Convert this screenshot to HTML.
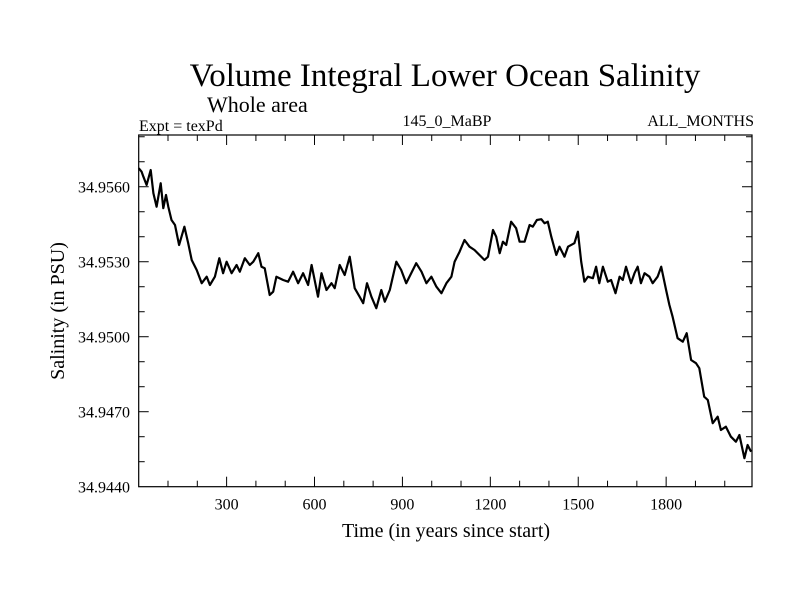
<!DOCTYPE html>
<html><head><meta charset="utf-8"><style>
html,body{margin:0;padding:0;background:#fff;}
svg{display:block;font-family:"Liberation Serif",serif;}
</style></head><body>
<svg id="chart" width="800" height="600" viewBox="0 0 800 600">
<text x="445" y="86" font-size="33" text-anchor="middle">Volume Integral Lower Ocean Salinity</text>
<text x="207" y="112" font-size="22">Whole area</text>
<text x="139" y="131" font-size="16">Expt = texPd</text>
<text x="447" y="126" font-size="16" text-anchor="middle">145_0_MaBP</text>
<text x="754" y="126" font-size="16" text-anchor="end">ALL_MONTHS</text>
<text x="446" y="537" font-size="20" text-anchor="middle">Time (in years since start)</text>
<text transform="translate(64,311) rotate(-90)" font-size="20" text-anchor="middle">Salinity (in PSU)</text>
<g id="axes"></g>
<g id="series"></g>
</svg>
<script>
const years = [0,10,16,27,41,50,61,75,84,93,101,112,124,138,156,169,181,198,215,232,243,260,275,288,300,317,334,345,362,379,391,408,419,430,447,459,470,493,510,527,544,561,578,590,612,624,641,658,669,686,703,720,737,754,766,779,794,811,828,840,857,879,896,913,930,947,965,982,999,1016,1033,1050,1067,1078,1095,1112,1129,1146,1163,1180,1192,1209,1220,1232,1243,1254,1271,1288,1300,1317,1334,1345,1359,1374,1385,1396,1408,1425,1436,1453,1465,1487,1499,1510,1521,1533,1550,1561,1572,1584,1601,1612,1627,1641,1652,1663,1680,1692,1703,1714,1726,1743,1754,1771,1783,1800,1811,1822,1839,1857,1870,1885,1902,1913,1930,1942,1959,1976,1987,2004,2021,2038,2050,2067,2078,2090];
const salinity = [34.95674,34.95660,34.95640,34.95607,34.95667,34.95574,34.95520,34.95614,34.95514,34.95567,34.95520,34.95467,34.95447,34.95367,34.95440,34.95374,34.95307,34.95267,34.95214,34.95240,34.95207,34.95240,34.95314,34.95254,34.95300,34.95254,34.95287,34.95260,34.95314,34.95287,34.95300,34.95334,34.95280,34.95274,34.95167,34.95180,34.95240,34.95227,34.95220,34.95260,34.95214,34.95254,34.95207,34.95287,34.95160,34.95254,34.95187,34.95214,34.95194,34.95287,34.95247,34.95320,34.95194,34.95160,34.95134,34.95214,34.95160,34.95114,34.95187,34.95140,34.95187,34.95300,34.95267,34.95214,34.95254,34.95294,34.95260,34.95214,34.95240,34.95200,34.95174,34.95214,34.95240,34.95300,34.95340,34.95387,34.95360,34.95347,34.95327,34.95307,34.95320,34.95427,34.95400,34.95334,34.95380,34.95367,34.95460,34.95434,34.95380,34.95380,34.95447,34.95440,34.95467,34.95470,34.95454,34.95460,34.95400,34.95327,34.95360,34.95320,34.95360,34.95374,34.95420,34.95300,34.95220,34.95240,34.95234,34.95280,34.95214,34.95280,34.95220,34.95227,34.95174,34.95240,34.95227,34.95280,34.95214,34.95254,34.95280,34.95214,34.95254,34.95240,34.95214,34.95240,34.95280,34.95187,34.95127,34.95080,34.94994,34.94980,34.95014,34.94907,34.94894,34.94874,34.94760,34.94747,34.94654,34.94680,34.94627,34.94640,34.94600,34.94580,34.94607,34.94514,34.94567,34.94540];
const xTickLabels = [300,600,900,1200,1500,1800];
const yTickLabels = ["34.9440","34.9470","34.9500","34.9530","34.9560"];

const L=138.7, R=752, T=135, B=486.7;
const X0=0, X1=2093, Y0=34.9440, Y1=34.95807;
function sx(v){return L+(v-X0)/(X1-X0)*(R-L);}
function sy(v){return B-(v-Y0)/(Y1-Y0)*(B-T);}
const NS='http://www.w3.org/2000/svg';
const axes=document.getElementById('axes');
function mk(tag,attrs,parent){const e=document.createElementNS(NS,tag);for(const k in attrs)e.setAttribute(k,attrs[k]);parent.appendChild(e);return e;}

const frame=mk('rect',{x:L,y:T,width:R-L,height:B-T,fill:'none',stroke:'#000','stroke-width':1.2},axes);



for(let v=100;v<X1;v+=100){
  const major=v%300===0, len=major?10:6, x=sx(v);
  const t1=mk('line',{x1:x,y1:B,x2:x,y2:B-len,stroke:'#000','stroke-width':1},axes);
  
  
  const t2=mk('line',{x1:x,y1:T,x2:x,y2:T+len,stroke:'#000','stroke-width':1},axes);
  
  
}
xTickLabels.forEach(v=>{
  const t=mk('text',{x:sx(v),y:B+23,'font-size':16,'text-anchor':'middle'},axes);
  t.textContent=v;
  
  
});
for(let i=1;i<=14;i++){
  const v=Y0+i*0.001; if(v>Y1) break;
  const major=i%3===0, len=major?10:6, y=sy(v);
  const t1=mk('line',{x1:L,y1:y,x2:L+len,y2:y,stroke:'#000','stroke-width':1},axes);
  
  
  const t2=mk('line',{x1:R,y1:y,x2:R-len,y2:y,stroke:'#000','stroke-width':1},axes);
  
  
}
yTickLabels.forEach(s=>{
  const t=mk('text',{x:130,y:sy(parseFloat(s))+6,'font-size':16,'text-anchor':'end'},axes);
  t.textContent=s;
  
  
});
let d='';
years.forEach((yr,i)=>{d+=(i?'L':'M')+sx(yr).toFixed(1)+' '+sy(salinity[i]).toFixed(1);});
const line=mk('path',{d:d,fill:'none',stroke:'#000','stroke-width':2.2,'stroke-linejoin':'round'},document.getElementById('series'));


</script>
</body></html>
